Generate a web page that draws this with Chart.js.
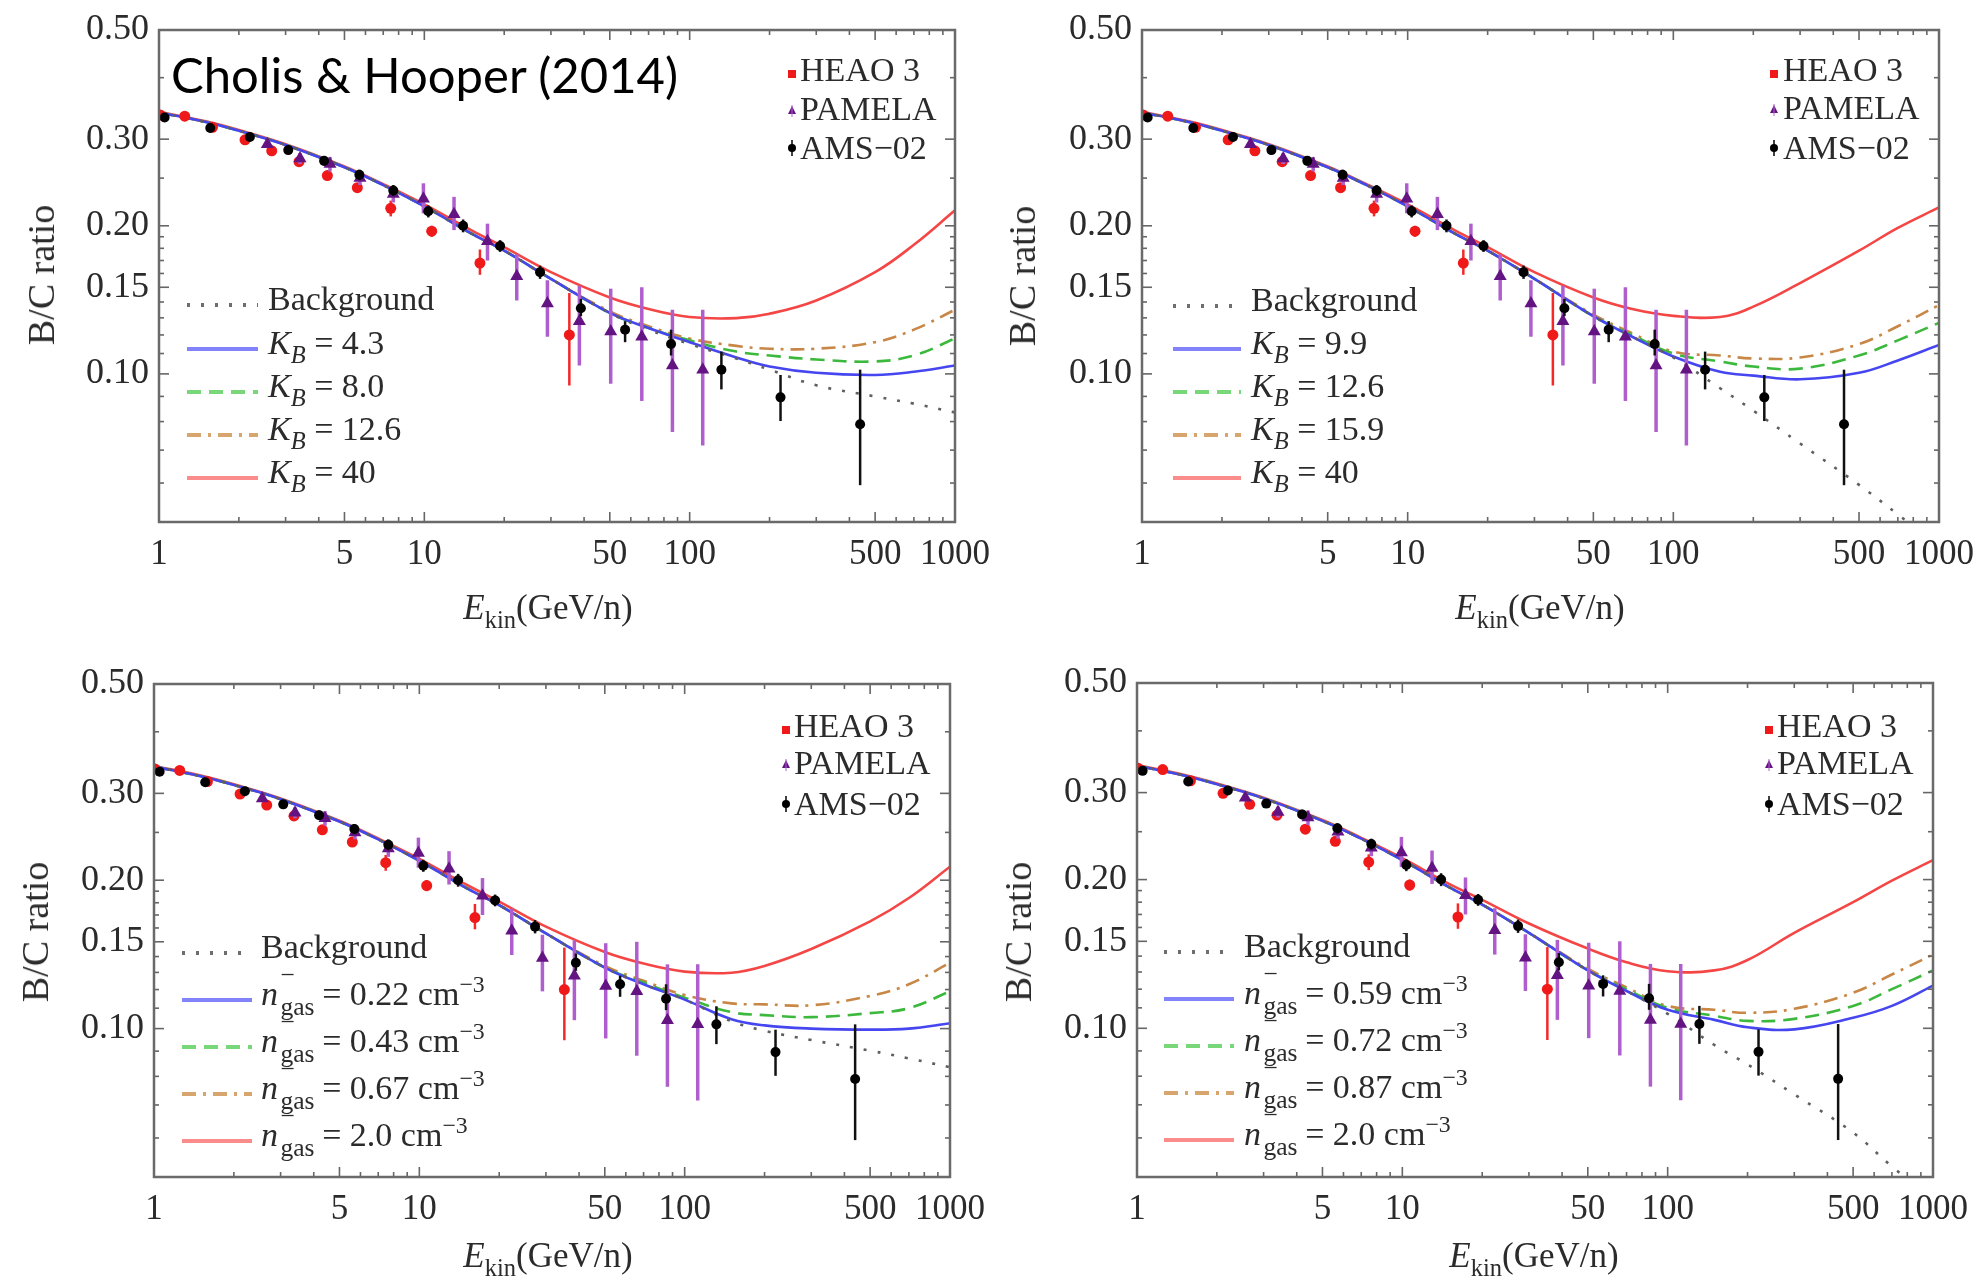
<!DOCTYPE html>
<html>
<head>
<meta charset="utf-8">
<title>B/C ratio</title>
<script src="https://cdn.jsdelivr.net/npm/chart.js@4.4.1/dist/chart.umd.min.js"></script>
<style>
  html, body { margin: 0; padding: 0; background: #fff; }
  #page { position: relative; width: 1981px; height: 1283px; overflow: hidden;
          font-family: "Liberation Serif", "Times New Roman", serif; color: #2b2b2b; }
  #page canvas { position: absolute; }
  .txt { position: absolute; white-space: nowrap; line-height: 1; }
  .ytitle { font-size: 38px; transform: translate(-50%, -50%) rotate(-90deg); }
  .xtitle { font-size: 35px; transform: translate(-50%, -50%); }
  .xtitle sub { font-size: 0.7em; vertical-align: -0.4em; line-height: 0; }
  .credit { font-family: Lato, "Open Sans", sans-serif; font-size: 49px; color: #000; }
  .leg { font-size: 34px; transform: translateY(-50%); }
  .leg sub { font-size: 0.72em; vertical-align: -0.35em; line-height: 0; }
  .leg sup { font-size: 0.7em; vertical-align: 0.55em; line-height: 0; }
  .ss { display: inline-block; position: relative; width: 1.4em; height: 1em; font-size: 0.75em; }
  .ss span { position: absolute; left: 0.1em; line-height: 1; }
  .ss .up { bottom: 0.7em; }
  .ss .dn { bottom: -0.55em; }
  .mark { position: absolute; }
</style>
</head>
<body>
<div id="page"></div>
<script>
// ---- data ----
const energyGrid = [1, 1.5, 2, 3, 5, 7, 10, 15, 20, 30, 50, 70, 100, 150, 200, 300, 500, 700, 1000];

// top left: K_B models
const backgroundTL = [0.340,0.325,0.312,0.292,0.263,0.242,0.219,0.193,0.178,0.156,0.133,0.123,0.115,0.1075,0.102,0.0948,0.0900,0.0870,0.0835];
const kb43TL  = [0.340,0.325,0.312,0.292,0.263,0.242,0.219,0.193,0.178,0.156,0.133,0.124,0.116,0.108,0.1035,0.1005,0.0995,0.101,0.104];
const kb80TL  = [0.340,0.325,0.312,0.292,0.263,0.242,0.219,0.193,0.178,0.156,0.133,0.124,0.117,0.111,0.109,0.107,0.106,0.109,0.118];
const kb126TL = [0.340,0.325,0.312,0.292,0.263,0.242,0.219,0.193,0.178,0.156,0.134,0.125,0.118,0.114,0.1125,0.1125,0.116,0.123,0.135];
const kb40TL  = [0.341,0.326,0.313,0.293,0.264,0.243,0.221,0.196,0.181,0.161,0.143,0.1355,0.1305,0.1298,0.1325,0.141,0.161,0.183,0.215];

// top right: K_B models
const backgroundTR = [0.340,0.325,0.312,0.292,0.263,0.242,0.219,0.193,0.178,0.156,0.131,0.119,0.108,0.0935,0.0842,0.0722,0.0595,0.0518,0.0446];
const kb99TR  = [0.340,0.325,0.312,0.292,0.263,0.242,0.219,0.193,0.178,0.156,0.131,0.119,0.1085,0.101,0.0992,0.0975,0.1005,0.1065,0.1145];
const kb126TR = [0.340,0.325,0.312,0.292,0.263,0.242,0.219,0.193,0.178,0.156,0.131,0.120,0.110,0.106,0.1035,0.1025,0.109,0.117,0.127];
const kb159TR = [0.340,0.325,0.312,0.292,0.263,0.242,0.219,0.193,0.178,0.156,0.132,0.121,0.111,0.109,0.1075,0.108,0.115,0.125,0.138];
const kb40TR  = [0.341,0.326,0.313,0.293,0.264,0.243,0.221,0.196,0.181,0.161,0.143,0.1355,0.1312,0.1305,0.137,0.153,0.178,0.198,0.218];

// bottom left: n_gas models
const backgroundBL = [0.340,0.325,0.312,0.292,0.263,0.242,0.219,0.193,0.178,0.156,0.133,0.123,0.1145,0.1035,0.099,0.0948,0.0902,0.087,0.0835];
const ngas022BL = [0.340,0.325,0.312,0.292,0.263,0.242,0.219,0.193,0.178,0.156,0.133,0.123,0.1145,0.1045,0.1015,0.100,0.0995,0.100,0.1025];
const ngas043BL = [0.340,0.325,0.312,0.292,0.263,0.242,0.219,0.193,0.178,0.156,0.133,0.124,0.1155,0.108,0.1065,0.1055,0.1075,0.110,0.119];
const ngas067BL = [0.340,0.325,0.312,0.292,0.263,0.242,0.219,0.193,0.178,0.156,0.134,0.125,0.117,0.1125,0.112,0.1115,0.1165,0.123,0.136];
const ngas20BL  = [0.341,0.326,0.313,0.293,0.264,0.243,0.221,0.196,0.181,0.161,0.143,0.1355,0.1305,0.1298,0.134,0.145,0.165,0.184,0.213];

// bottom right: n_gas models
const backgroundBR = [0.340,0.325,0.312,0.292,0.263,0.242,0.219,0.193,0.178,0.156,0.131,0.119,0.107,0.0925,0.0845,0.0735,0.0615,0.0525,0.045];
const ngas059BR = [0.340,0.325,0.312,0.292,0.263,0.242,0.219,0.193,0.178,0.156,0.131,0.119,0.109,0.104,0.1005,0.0995,0.105,0.111,0.122];
const ngas072BR = [0.340,0.325,0.312,0.292,0.263,0.242,0.219,0.193,0.178,0.156,0.131,0.120,0.110,0.106,0.1035,0.1045,0.111,0.120,0.131];
const ngas087BR = [0.340,0.325,0.312,0.292,0.263,0.242,0.219,0.193,0.178,0.156,0.132,0.121,0.111,0.109,0.1075,0.1095,0.118,0.1285,0.141];
const ngas20BR  = [0.341,0.326,0.313,0.293,0.264,0.243,0.221,0.196,0.182,0.163,0.145,0.136,0.1305,0.131,0.1375,0.156,0.180,0.199,0.219];

// measurements
const heaoE  = [1.01, 1.25, 1.59, 2.11, 2.66, 3.37, 4.31, 5.59, 7.47, 10.66, 16.2, 35.2];
const heaoBC = [0.336, 0.334, 0.317, 0.299, 0.284, 0.270, 0.253, 0.239, 0.217, 0.195, 0.168, 0.120];
const heaoLo = [0.331, 0.329, 0.312, 0.294, 0.279, 0.265, 0.248, 0.234, 0.209, 0.190, 0.159, 0.0947];
const heaoHi = [0.341, 0.339, 0.322, 0.304, 0.289, 0.275, 0.258, 0.244, 0.225, 0.200, 0.179, 0.146];

const pamelaE  = [2.56, 3.40, 4.41, 5.72, 7.64, 9.92, 12.94, 17.3, 22.3, 29.1, 38.4, 50.4, 66.0, 86.1, 112];
const pamelaBC = [0.293, 0.274, 0.267, 0.250, 0.232, 0.227, 0.211, 0.186, 0.158, 0.139, 0.128, 0.122, 0.119, 0.104, 0.102];
const pamelaLo = [0.288, 0.267, 0.258, 0.242, 0.223, 0.212, 0.196, 0.170, 0.141, 0.119, 0.104, 0.0955, 0.0881, 0.0762, 0.0715];
const pamelaHi = [0.298, 0.281, 0.276, 0.258, 0.241, 0.244, 0.229, 0.202, 0.175, 0.155, 0.151, 0.149, 0.150, 0.135, 0.135];

const amsE  = [1.05, 1.56, 2.20, 3.07, 4.19, 5.69, 7.64, 10.35, 14.0, 19.3, 27.3, 38.9, 57.1, 85.1, 131.7, 220, 439];
const amsBC = [0.332, 0.316, 0.303, 0.285, 0.271, 0.254, 0.236, 0.214, 0.200, 0.182, 0.161, 0.136, 0.123, 0.115, 0.102, 0.0896, 0.0790];
const amsLo = [0.327, 0.310, 0.297, 0.280, 0.265, 0.248, 0.230, 0.208, 0.194, 0.177, 0.156, 0.131, 0.116, 0.109, 0.093, 0.0802, 0.0594];
const amsHi = [0.337, 0.322, 0.309, 0.290, 0.277, 0.260, 0.242, 0.220, 0.206, 0.187, 0.166, 0.142, 0.128, 0.123, 0.111, 0.0995, 0.102];

// ticks
const xTickValues  = [1, 5, 10, 50, 100, 500, 1000];
const xMinorValues = [2, 3, 4, 6, 7, 8, 9, 20, 30, 40, 60, 70, 80, 90, 200, 300, 400, 600, 700, 800, 900];
const yTickValues  = [0.10, 0.15, 0.20, 0.30, 0.50];
const yMinorValues = [0.06, 0.07, 0.08, 0.09, 0.11, 0.12, 0.13, 0.14, 0.16, 0.17, 0.18, 0.19, 0.25, 0.40];

// legend texts
const dataLabels   = ['HEAO 3', 'PAMELA', 'AMS\u221202'];
const kbValuesTL   = ['4.3', '8.0', '12.6', '40'];
const kbValuesTR   = ['9.9', '12.6', '15.9', '40'];
const ngasValuesBL = ['0.22', '0.43', '0.67', '2.0'];
const ngasValuesBR = ['0.59', '0.72', '0.87', '2.0'];

// ---- styles ----
Chart.defaults.font.family = '"Liberation Serif", "Times New Roman", serif';
Chart.defaults.color = '#2b2b2b';

const curveStyles = [
  { color: 'rgb(95,95,95)',   dash: [3, 11] },        // background
  { color: 'rgb(70,70,240)',  dash: [] },
  { color: 'rgb(60,185,60)',  dash: [14, 8] },
  { color: 'rgb(200,135,70)', dash: [14, 7, 3, 7] },
  { color: 'rgb(245,70,70)',  dash: [] }
];
const legendSampleColors = ['rgb(110,110,110)', 'rgb(130,130,250)', 'rgb(120,215,120)', 'rgb(215,165,110)', 'rgb(250,140,140)'];

const panels = [
  { canvas: [0, 0, 1000, 640],   area: [159, 30, 955, 522],
    curves: [backgroundTL, kb43TL, kb80TL, kb126TL, kb40TL], values: kbValuesTL, kind: 'K',
    yTitle: [41, 275], xTitle: [548, 607],
    lineLeg: { x0: 187, x1: 258, text: 268, rows: [299, 343, 386, 429, 472] },
    dataLeg: { marker: 792, text: 800, rows: [70, 109, 148] }, credit: [171, 50] },
  { canvas: [980, 0, 1001, 640], area: [1142, 30, 1939, 522],
    curves: [backgroundTR, kb99TR, kb126TR, kb159TR, kb40TR], values: kbValuesTR, kind: 'K',
    yTitle: [1022, 276], xTitle: [1540, 607],
    lineLeg: { x0: 1173, x1: 1241, text: 1251, rows: [300, 343, 386, 429, 472] },
    dataLeg: { marker: 1774, text: 1783, rows: [70, 108, 148] } },
  { canvas: [0, 640, 1000, 643], area: [154, 684, 950, 1177],
    curves: [backgroundBL, ngas022BL, ngas043BL, ngas067BL, ngas20BL], values: ngasValuesBL, kind: 'n',
    yTitle: [35, 932], xTitle: [548, 1255],
    lineLeg: { x0: 182, x1: 252, text: 261, rows: [947, 994, 1041, 1088, 1135] },
    dataLeg: { marker: 786, text: 794, rows: [726, 763, 804] } },
  { canvas: [980, 640, 1001, 643], area: [1137, 683, 1933, 1177],
    curves: [backgroundBR, ngas059BR, ngas072BR, ngas087BR, ngas20BR], values: ngasValuesBR, kind: 'n',
    yTitle: [1018, 932], xTitle: [1534, 1255],
    lineLeg: { x0: 1164, x1: 1234, text: 1244, rows: [946, 993, 1040, 1087, 1134] },
    dataLeg: { marker: 1769, text: 1777, rows: [726, 763, 804] } }
];

function pts(xs, ys) { return xs.map((x, i) => ({ x: x, y: ys[i] })); }

// vertical error bars, drawn through the scales just before each data set
const errorBars = {
  id: 'errorBars',
  beforeDatasetDraw(chart, args) {
    const ds = chart.data.datasets[args.index];
    if (!ds.errLo) return;
    const { ctx, chartArea: a, scales: { x, y } } = chart;
    ctx.save();
    ctx.beginPath();
    ctx.rect(a.left, a.top, a.right - a.left, a.bottom - a.top);
    ctx.clip();
    ctx.strokeStyle = ds.errColor;
    ctx.lineWidth = ds.errWidth;
    ds.data.forEach((p, i) => {
      const px = x.getPixelForValue(p.x);
      ctx.beginPath();
      ctx.moveTo(px, y.getPixelForValue(ds.errLo[i]));
      ctx.lineTo(px, y.getPixelForValue(ds.errHi[i]));
      ctx.stroke();
    });
    ctx.restore();
  }
};

// box frame with inward ticks on all four sides
const frameTicks = {
  id: 'frameTicks',
  afterDatasetsDraw(chart) {
    const { ctx, chartArea: a, scales: { x, y } } = chart;
    const seg = (x0, y0, x1, y1) => { ctx.beginPath(); ctx.moveTo(x0, y0); ctx.lineTo(x1, y1); ctx.stroke(); };
    ctx.save();
    ctx.strokeStyle = '#666';
    ctx.lineWidth = 1.6;
    xTickValues.forEach(v => { const p = x.getPixelForValue(v); seg(p, a.bottom, p, a.bottom - 10); seg(p, a.top, p, a.top + 10); });
    xMinorValues.forEach(v => { const p = x.getPixelForValue(v); seg(p, a.bottom, p, a.bottom - 5); seg(p, a.top, p, a.top + 5); });
    yTickValues.forEach(v => { const p = y.getPixelForValue(v); seg(a.left, p, a.left + 10, p); seg(a.right, p, a.right - 10, p); });
    yMinorValues.forEach(v => { const p = y.getPixelForValue(v); seg(a.left, p, a.left + 5, p); seg(a.right, p, a.right - 5, p); });
    ctx.strokeStyle = '#6a6a6a';
    ctx.lineWidth = 2.5;
    ctx.strokeRect(a.left, a.top, a.right - a.left, a.bottom - a.top);
    ctx.restore();
  }
};

const page = document.getElementById('page');

function addText(html, cls, left, top) {
  const d = document.createElement('div');
  d.className = 'txt ' + cls;
  d.style.left = left + 'px';
  d.style.top = top + 'px';
  d.innerHTML = html;
  page.appendChild(d);
  return d;
}

function addSvg(left, top, w, h, inner) {
  const d = document.createElement('div');
  d.className = 'mark';
  d.style.left = left + 'px';
  d.style.top = top + 'px';
  d.innerHTML = '<svg width="' + w + '" height="' + h + '" xmlns="http://www.w3.org/2000/svg">' + inner + '</svg>';
  page.appendChild(d);
}

function modelLabel(kind, v) {
  if (kind === 'K') return '<i>K</i><sub><i>B</i></sub> = ' + v;
  return '<i>n</i><span class="ss"><span class="up">\u2212</span><span class="dn">gas</span></span> = ' + v + ' cm<sup>\u22123</sup>';
}

panels.forEach(p => {
  const [cx, cy, cw, ch] = p.canvas;
  const [al, at, ar, ab] = p.area;
  const cv = document.createElement('canvas');
  cv.width = cw; cv.height = ch;
  cv.style.left = cx + 'px'; cv.style.top = cy + 'px';
  cv.style.width = cw + 'px'; cv.style.height = ch + 'px';
  page.appendChild(cv);

  const yW = al - cx, xH = cy + ch - ab;

  const datasets = [
    { label: 'AMS-02', data: pts(amsE, amsBC), errLo: amsLo, errHi: amsHi, errColor: '#111', errWidth: 2.5,
      pointStyle: 'circle', pointRadius: 5, backgroundColor: '#000', borderColor: '#000', borderWidth: 0, order: 1 },
    { label: 'PAMELA', data: pts(pamelaE, pamelaBC), errLo: pamelaLo, errHi: pamelaHi, errColor: 'rgb(175,95,205)', errWidth: 3.5,
      pointStyle: 'triangle', pointRadius: 7.5, backgroundColor: 'rgb(100,20,130)', borderColor: 'rgb(100,20,130)', borderWidth: 0, order: 2 },
    { label: 'HEAO 3', data: pts(heaoE, heaoBC), errLo: heaoLo, errHi: heaoHi, errColor: 'rgb(245,40,40)', errWidth: 2.5,
      pointStyle: 'circle', pointRadius: 5.5, backgroundColor: 'rgb(240,25,25)', borderColor: 'rgb(240,25,25)', borderWidth: 0, order: 3 }
  ];
  p.curves.forEach((c, i) => {
    datasets.push({
      data: pts(energyGrid, c), showLine: true, pointRadius: 0, fill: false,
      borderColor: curveStyles[i].color, borderDash: curveStyles[i].dash, borderWidth: 2.6,
      tension: 0.4, order: 4 + i
    });
  });

  new Chart(cv, {
    type: 'scatter',
    data: { datasets: datasets },
    options: {
      responsive: false, animation: false, devicePixelRatio: 1, events: [],
      layout: { autoPadding: false, padding: { left: 0, top: at - cy, right: cx + cw - ar, bottom: 0 } },
      plugins: { legend: { display: false }, tooltip: { enabled: false } },
      scales: {
        x: {
          type: 'logarithmic', min: 1, max: 1000,
          grid: { display: false, drawTicks: false }, border: { display: false },
          afterBuildTicks: ax => { ax.ticks = xTickValues.map(v => ({ value: v })); },
          afterFit: ax => { ax.height = xH; ax.paddingLeft = 0; ax.paddingRight = 0; ax.paddingTop = 0; ax.paddingBottom = 0; },
          ticks: { autoSkip: false, maxRotation: 0, minRotation: 0, padding: 12, color: '#2b2b2b',
                   font: { size: 35 }, callback: v => String(v) }
        },
        y: {
          type: 'logarithmic', min: 0.05, max: 0.5,
          grid: { display: false, drawTicks: false }, border: { display: false },
          afterBuildTicks: ax => { ax.ticks = yTickValues.map(v => ({ value: v })); },
          afterFit: ax => { ax.width = yW; ax.paddingLeft = 0; ax.paddingRight = 0; ax.paddingTop = 0; ax.paddingBottom = 0; },
          ticks: { autoSkip: false, padding: 10, color: '#2b2b2b', font: { size: 36 }, callback: v => v.toFixed(2) }
        }
      }
    },
    plugins: [errorBars, frameTicks]
  });

  // axis titles
  addText('B/C ratio', 'ytitle', p.yTitle[0], p.yTitle[1]);
  addText('<i>E</i><sub>kin</sub>(GeV/n)', 'xtitle', p.xTitle[0], p.xTitle[1]);

  // model legend
  const L = p.lineLeg;
  L.rows.forEach((ry, i) => {
    const st = curveStyles[i];
    const dash = st.dash.length ? ' stroke-dasharray="' + st.dash.join(' ') + '"' : '';
    addSvg(L.x0, ry - 4, L.x1 - L.x0, 8,
      '<line x1="0" y1="4" x2="' + (L.x1 - L.x0) + '" y2="4" stroke="' + legendSampleColors[i] + '" stroke-width="4"' + dash + '/>');
    const label = i === 0 ? 'Background' : modelLabel(p.kind, p.values[i - 1]);
    addText(label, 'leg', L.text, ry);
  });

  // data legend
  const D = p.dataLeg;
  addSvg(D.marker - 5, D.rows[0] - 5, 10, 10, '<rect x="1" y="1" width="8" height="8" fill="rgb(240,25,25)"/>');
  addSvg(D.marker - 5, D.rows[1] - 6, 10, 12, '<polygon points="5,1 9,9 1,9" fill="rgb(100,20,130)"/><line x1="5" y1="0" x2="5" y2="12" stroke="rgb(175,95,205)" stroke-width="1"/>');
  addSvg(D.marker - 5, D.rows[2] - 9, 10, 18, '<line x1="5" y1="1" x2="5" y2="17" stroke="#000" stroke-width="1.5"/><circle cx="5" cy="9" r="4" fill="#000"/>');
  D.rows.forEach((ry, i) => addText(dataLabels[i], 'leg', D.text, ry));

  if (p.credit) addText('Cholis &amp; Hooper (2014)', 'credit', p.credit[0], p.credit[1]);
});
</script>
</body>
</html>
